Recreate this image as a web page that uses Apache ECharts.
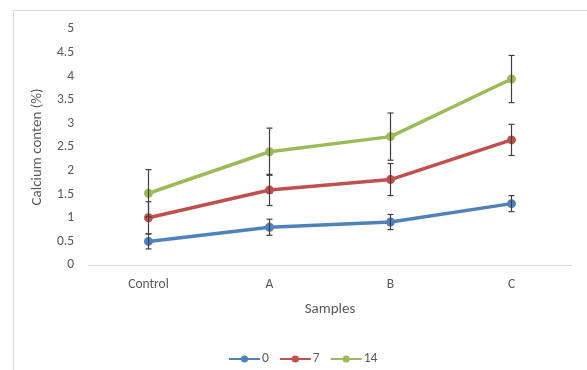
<!DOCTYPE html>
<html>
<head>
<meta charset="utf-8">
<script src="https://cdn.jsdelivr.net/npm/echarts@6/dist/echarts.min.js"></script>
<style>
html,body{margin:0;padding:0;background:#fff;}
#c{width:587px;height:370px;position:relative;}
</style>
</head>
<body>
<div id="c"></div>
<script>
var categories = ['Control', 'A', 'B', 'C'];
var seriesNames = ['0', '7', '14'];
var values0 = [0.5, 0.8, 0.91, 1.3];
var values7 = [1.0, 1.59, 1.81, 2.65];
var values14 = [1.52, 2.4, 2.72, 3.94];
var err0 = [0.16, 0.17, 0.16, 0.17];
var err7 = [0.34, 0.33, 0.34, 0.33];
var err14 = [0.5, 0.5, 0.5, 0.5];
var yTicks = [0, 0.5, 1, 1.5, 2, 2.5, 3, 3.5, 4, 4.5, 5];
var colors = ['#4F81BD', '#C0504D', '#9BBB59'];

var font = 'Carlito, "Open Sans", sans-serif';
var allVals = [values0, values7, values14];
var allErr = [err0, err7, err14];

function errData(v, e) {
  return v.map(function (val, i) { return [i, val - e[i], val + e[i]]; });
}
function renderErr(params, api) {
  var x = api.value(0);
  var lo = api.coord([x, api.value(1)]);
  var hi = api.coord([x, api.value(2)]);
  var hw = 3;
  var st = { stroke: '#404040', lineWidth: 1.2 };
  return {
    type: 'group',
    children: [
      { type: 'line', shape: { x1: lo[0], y1: lo[1], x2: hi[0], y2: hi[1] }, style: st },
      { type: 'line', shape: { x1: lo[0] - hw, y1: lo[1], x2: lo[0] + hw, y2: lo[1] }, style: st },
      { type: 'line', shape: { x1: hi[0] - hw, y1: hi[1], x2: hi[0] + hw, y2: hi[1] }, style: st }
    ]
  };
}

var series = [];
seriesNames.forEach(function (n, k) {
  series.push({
    name: n,
    type: 'line',
    data: allVals[k],
    symbol: 'circle',
    symbolSize: 9,
    lineStyle: { width: 3.5, color: colors[k] },
    itemStyle: { color: colors[k] },
    z: 2,
    animation: false
  });
});
seriesNames.forEach(function (n, k) {
  series.push({
    type: 'custom',
    data: errData(allVals[k], allErr[k]),
    renderItem: renderErr,
    encode: { x: 0, y: [1, 2] },
    z: 3,
    silent: true,
    animation: false
  });
});

var chart = echarts.init(document.getElementById('c'));
chart.setOption({
  animation: false,
  color: colors,
  grid: { left: 88, right: 15, top: 29, bottom: 105, containLabel: false },
  xAxis: {
    type: 'category',
    data: categories,
    boundaryGap: true,
    axisLine: { lineStyle: { color: '#d9d9d9', width: 1 } },
    axisTick: { show: false },
    axisLabel: { color: '#595959', fontSize: 13.5, fontFamily: font, margin: 13 },
    name: 'Samples',
    nameLocation: 'middle',
    nameGap: 37,
    nameTextStyle: { color: '#595959', fontSize: 15, fontFamily: font }
  },
  yAxis: {
    type: 'value',
    min: 0,
    max: 5,
    interval: 0.5,
    splitLine: { show: false },
    axisLine: { show: false },
    axisTick: { show: false },
    axisLabel: { color: '#595959', fontSize: 13.5, fontFamily: font, margin: 14,
      formatter: function (v) { return yTicks.indexOf(v) >= 0 ? String(v) : ''; } },
    name: 'Calcium conten (%)',
    nameLocation: 'middle',
    nameGap: 43,
    nameRotate: 90,
    nameTextStyle: { color: '#595959', fontSize: 15, fontFamily: font }
  },
  legend: {
    data: seriesNames,
    left: 223,
    top: 347,
    itemWidth: 31,
    itemHeight: 9,
    itemGap: 10,
    textStyle: { color: '#595959', fontSize: 13.5, fontFamily: font, padding: [0, 0, 0, -3] }
  },
  series: series
});
</script>
<div id="frame" style="position:absolute;left:13px;top:10px;width:574px;height:360px;border-left:1px solid #d9d9d9;border-top:1px solid #d9d9d9;pointer-events:none;"></div>
</body>
</html>
